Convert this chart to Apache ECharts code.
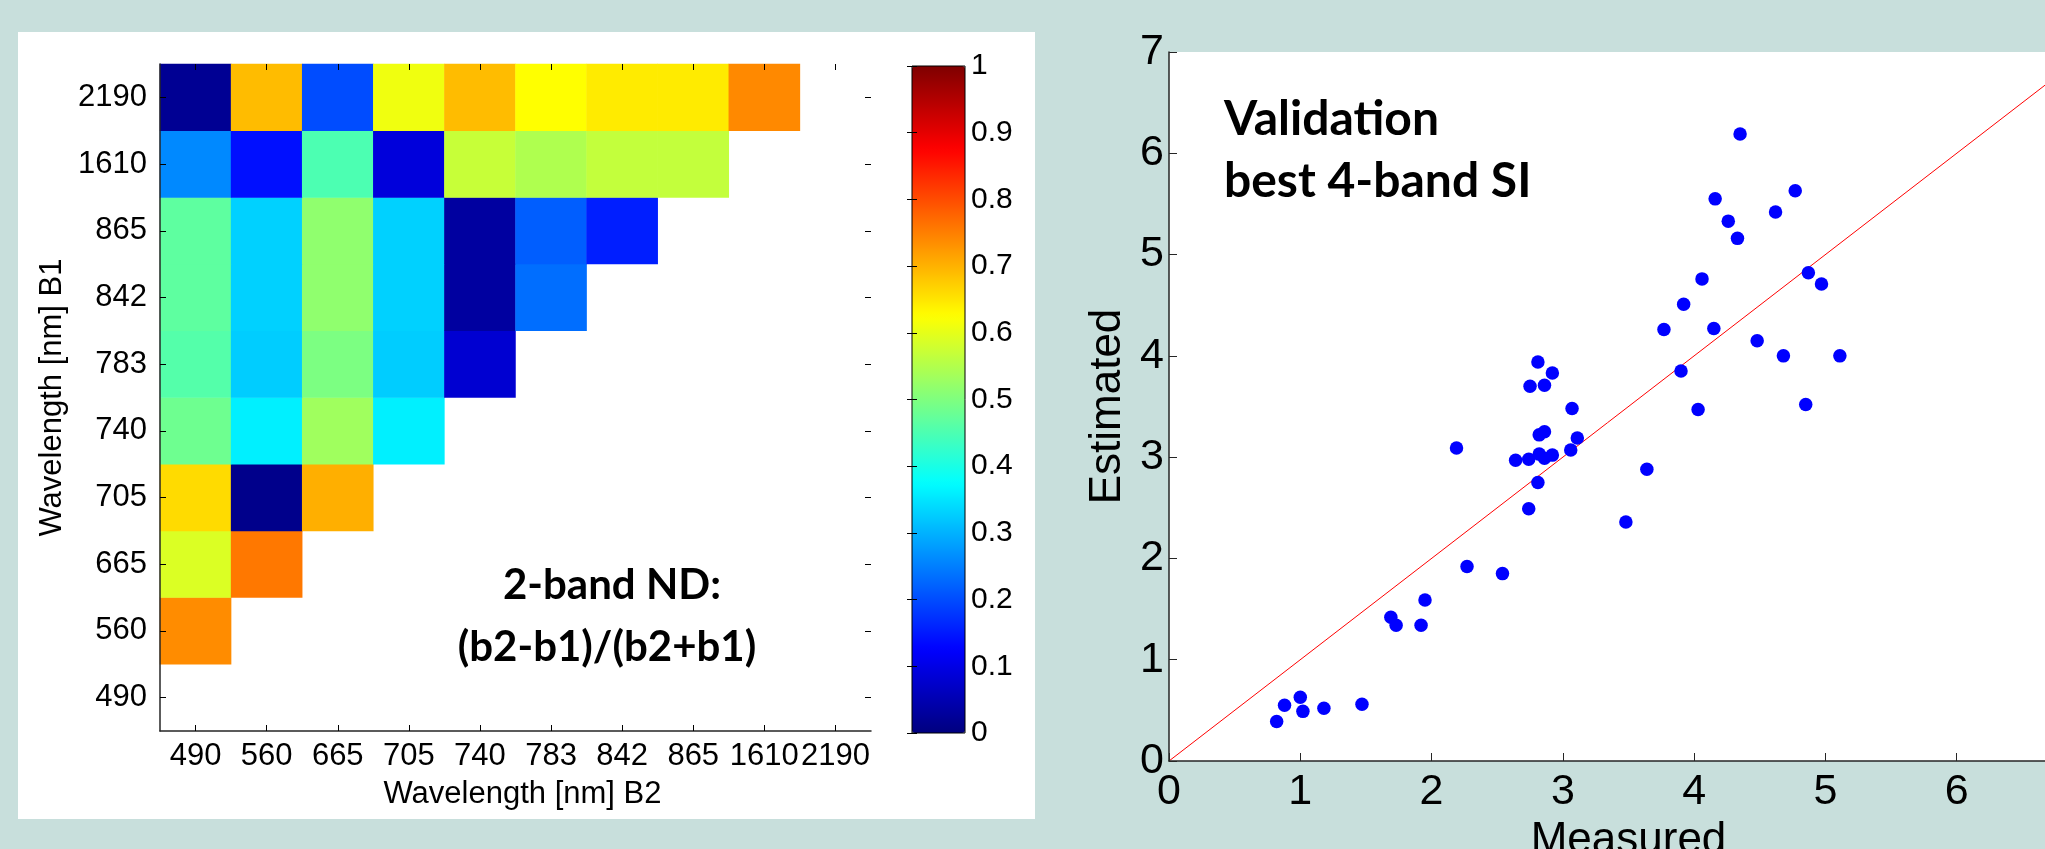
<!DOCTYPE html>
<html>
<head>
<meta charset="utf-8">
<script src="https://cdn.jsdelivr.net/npm/echarts@6/dist/echarts.min.js"></script>
<style>
html,body{margin:0;padding:0;background:#c8dfdc;}
#chart{width:2045px;height:849px;}
</style>
</head>
<body>
<div id="chart"></div>
<script>
// ---- Heatmap (2-band ND) data ----
const bandLabels = ['490','560','665','705','740','783','842','865','1610','2190'];
// each row: B1 band, values for B2 = 490, 560, ... (left to right)
const row2190 = [0.02, 0.69, 0.20, 0.61, 0.69, 0.625, 0.645, 0.645, 0.74];
const row1610 = [0.26, 0.14, 0.45, 0.09, 0.57, 0.547, 0.566, 0.566];
const row865  = [0.468, 0.33, 0.517, 0.33, 0.032, 0.218, 0.155];
const row842  = [0.468, 0.33, 0.517, 0.33, 0.032, 0.233];
const row783  = [0.458, 0.326, 0.497, 0.326, 0.08];
const row740  = [0.483, 0.36, 0.532, 0.36];
const row705  = [0.66, 0.012, 0.703];
const row665  = [0.59, 0.757];
const row560  = [0.7375];
const row490  = [];
const rowsByB1 = {'2190':row2190,'1610':row1610,'865':row865,'842':row842,'783':row783,
                  '740':row740,'705':row705,'665':row665,'560':row560,'490':row490};
const jetColors = ['#00007f','#0000ff','#007fff','#00ffff','#7fff7f','#ffff00','#ff7f00','#ff0000','#7f0000'];

// ---- Validation scatter data ----
const measured  = [0.82,0.88,1.00,1.02,1.18,1.47,1.69,1.73,1.92,1.95,
                   2.19,2.27,2.54,2.64,2.74,2.74,2.75,2.81,2.81,2.82,
                   2.86,2.82,2.86,2.92,2.86,2.92,3.07,3.06,3.11,3.48,
                   3.64,3.77,3.90,3.92,4.03,4.06,4.15,4.16,4.26,4.33,
                   4.35,4.48,4.62,4.68,4.77,4.87,4.85,4.97,5.11];
const estimated = [0.39,0.55,0.63,0.49,0.52,0.56,1.42,1.34,1.34,1.59,
                   3.09,1.92,1.85,2.97,2.49,2.98,3.70,3.94,2.75,3.22,
                   3.25,3.03,2.99,3.02,3.71,3.83,3.48,3.07,3.19,2.36,
                   2.88,4.26,3.85,4.51,3.47,4.76,4.27,5.55,5.33,5.16,
                   6.19,4.15,5.42,4.00,5.63,4.82,3.52,4.71,4.00];
const lineX = [0, 7];
const lineY = [0, 7];

const heatData = [];
Object.keys(rowsByB1).forEach(function (b1) {
  const yi = bandLabels.indexOf(b1);
  rowsByB1[b1].forEach(function (v, xi) { heatData.push([xi, yi, v]); });
});
const scatterData = measured.map(function (m, i) { return [m, estimated[i]]; });
const lineData = lineX.map(function (x, i) { return [x, lineY[i]]; });

const FONT = 'Liberation Sans, Arial, Helvetica, sans-serif';
const AX = '#262626';

const chart = echarts.init(document.getElementById('chart'), null, {renderer: 'canvas'});
const option = {
  backgroundColor: '#c8dfdc',
  animation: false,
  graphic: {
    elements: [
      {type: 'rect', silent: true, z: -10, shape: {x: 18, y: 32, width: 1017, height: 787}, style: {fill: '#ffffff'}},
      {type: 'text', z: 100, x: 612, y: 585, style: {text: '2-band ND:', fontFamily: 'Lato', fontWeight: 'bold', fontSize: 42, fill: '#000', align: 'center', verticalAlign: 'middle'}},
      {type: 'text', z: 100, x: 607, y: 647, style: {text: '(b2-b1)/(b2+b1)', fontFamily: 'Lato', fontWeight: 'bold', fontSize: 42, fill: '#000', align: 'center', verticalAlign: 'middle'}},
      {type: 'text', z: 100, x: 1224, y: 120, style: {text: 'Validation', fontFamily: 'Lato', fontWeight: 'bold', fontSize: 48, fill: '#000', align: 'left', verticalAlign: 'middle'}},
      {type: 'text', z: 100, x: 1224, y: 182, style: {text: 'best 4-band SI', fontFamily: 'Lato', fontWeight: 'bold', fontSize: 48, fill: '#000', align: 'left', verticalAlign: 'middle'}}
    ]
  },
  grid: [
    {left: 160, top: 64, width: 711, height: 667, show: false, outerBoundsMode: 'none', containLabel: false},
    {left: 912, top: 66, width: 53, height: 667, show: true, borderColor: '#000', borderWidth: 1, backgroundColor: 'transparent', z: 10, outerBoundsMode: 'none', containLabel: false},
    {left: 1169, top: 52, width: 919, height: 709, show: true, backgroundColor: '#ffffff', borderWidth: 0, outerBoundsMode: 'none', containLabel: false}
  ],
  xAxis: [
    {type: 'category', gridIndex: 0, data: bandLabels, position: 'bottom', z: 5,
     axisLine: {show: true, lineStyle: {color: AX, width: 1.5}},
     axisTick: {show: true, inside: true, length: 6, alignWithLabel: true, lineStyle: {color: '#000'}},
     axisLabel: {interval: 0, fontSize: 31, fontFamily: FONT, color: '#000', margin: 10},
     name: 'Wavelength [nm] B2', nameLocation: 'middle', nameGap: 48,
     nameTextStyle: {fontSize: 31, fontFamily: FONT, color: '#000', padding: [0, 0, 0, 14]},
     splitLine: {show: false}},
    {type: 'category', gridIndex: 0, data: bandLabels, position: 'top', z: 5,
     axisLine: {show: false},
     axisTick: {show: true, inside: true, length: 6, alignWithLabel: true, lineStyle: {color: '#000'}},
     axisLabel: {show: false}, splitLine: {show: false}},
    {type: 'value', gridIndex: 1, min: 0, max: 1, show: false},
    {type: 'value', gridIndex: 2, min: 0, max: 7, interval: 1, z: 5,
     axisLine: {show: true, onZero: false, lineStyle: {color: AX, width: 1.5}},
     axisTick: {show: true, inside: true, length: 8, lineStyle: {color: AX}},
     axisLabel: {fontSize: 43, fontFamily: FONT, color: '#000', margin: 10},
     splitLine: {show: false},
     name: 'Measured', nameLocation: 'middle', nameGap: 54,
     nameTextStyle: {fontSize: 44, fontFamily: FONT, color: '#000'}}
  ],
  yAxis: [
    {type: 'category', gridIndex: 0, data: bandLabels, position: 'left', z: 5,
     axisLine: {show: true, lineStyle: {color: AX, width: 1.5}},
     axisTick: {show: true, inside: true, length: 6, alignWithLabel: true, lineStyle: {color: '#000'}},
     axisLabel: {interval: 0, fontSize: 31, fontFamily: FONT, color: '#000', margin: 13},
     name: 'Wavelength [nm] B1', nameLocation: 'middle', nameGap: 92,
     nameTextStyle: {fontSize: 31, fontFamily: FONT, color: '#000'},
     splitLine: {show: false}},
    {type: 'category', gridIndex: 0, data: bandLabels, position: 'right', z: 5,
     axisLine: {show: false},
     axisTick: {show: true, inside: true, length: 6, alignWithLabel: true, lineStyle: {color: '#000'}},
     axisLabel: {show: false}, splitLine: {show: false}},
    {type: 'value', gridIndex: 1, min: 0, max: 1, interval: 0.1, position: 'right', z: 11,
     axisLine: {show: false},
     axisTick: {show: true, inside: true, length: 5, lineStyle: {color: '#000'}},
     axisLabel: {fontSize: 30, fontFamily: FONT, color: '#000', margin: 6},
     splitLine: {show: false}},
    {type: 'value', gridIndex: 1, min: 0, max: 1, interval: 0.1, position: 'left', z: 11,
     axisLine: {show: false},
     axisTick: {show: true, inside: true, length: 5, lineStyle: {color: '#000'}},
     axisLabel: {show: false}, splitLine: {show: false}},
    {type: 'value', gridIndex: 2, min: 0, max: 7, interval: 1, z: 5,
     axisLine: {show: true, onZero: false, lineStyle: {color: AX, width: 1.5}},
     axisTick: {show: true, inside: true, length: 8, lineStyle: {color: AX}},
     axisLabel: {fontSize: 43, fontFamily: FONT, color: '#000', margin: 5},
     splitLine: {show: false},
     name: 'Estimated', nameLocation: 'middle', nameGap: 39,
     nameTextStyle: {fontSize: 44, fontFamily: FONT, color: '#000'}}
  ],
  visualMap: [{
    type: 'continuous', seriesIndex: 0, min: 0, max: 1, calculable: false,
    orient: 'vertical', left: 912, top: 66, itemWidth: 53, itemHeight: 667, padding: 0,
    inRange: {color: jetColors}, z: 4
  }],
  series: [
    {type: 'heatmap', xAxisIndex: 0, yAxisIndex: 0, data: heatData, itemStyle: {borderWidth: 0}},
    {type: 'line', xAxisIndex: 3, yAxisIndex: 4, data: lineData, symbol: 'none', silent: true,
     lineStyle: {color: '#ff0000', width: 1}, z: 3},
    {type: 'scatter', xAxisIndex: 3, yAxisIndex: 4, data: scatterData, symbol: 'circle', symbolSize: 13.5,
     itemStyle: {color: '#0000ff', opacity: 1}, z: 5}
  ]
};
chart.setOption(option);
</script>
</body>
</html>
